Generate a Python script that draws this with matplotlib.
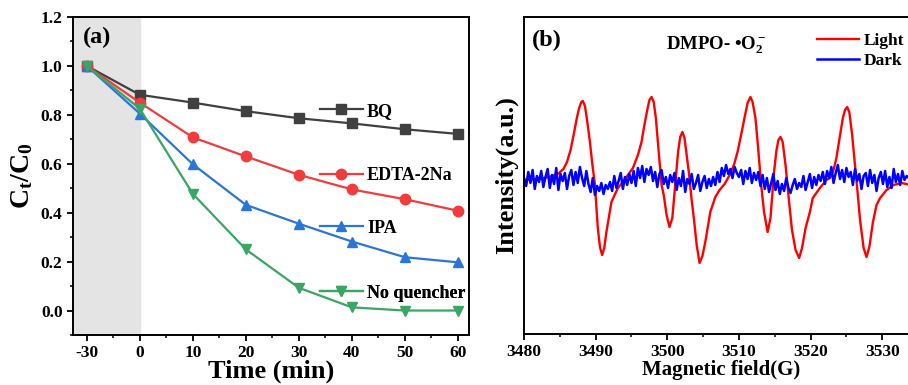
import numpy as np
import matplotlib
matplotlib.use('Agg')
from matplotlib import pyplot as plt
from matplotlib.lines import Line2D

plt.rcParams['font.family'] = ['Liberation Serif', 'DejaVu Serif']
plt.rcParams['font.weight'] = 'bold'
plt.rcParams['axes.labelweight'] = 'bold'
plt.rcParams['mathtext.fontset'] = 'custom'
plt.rcParams['mathtext.rm'] = 'Liberation Serif:bold'
plt.rcParams['mathtext.it'] = 'Liberation Serif:bold'
plt.rcParams['mathtext.bf'] = 'Liberation Serif:bold'

# degradation curves, (a)
time_min = [-30, 0, 10, 20, 30, 40, 50, 60]
time_labels = ['-30', '0', '10', '20', '30', '40', '50', '60']
bq = [1.0, 0.882, 0.850, 0.815, 0.786, 0.765, 0.741, 0.722]
edta = [1.0, 0.850, 0.708, 0.630, 0.555, 0.495, 0.455, 0.408]
ipa = [1.0, 0.805, 0.598, 0.432, 0.355, 0.282, 0.218, 0.197]
no_q = [1.0, 0.825, 0.477, 0.250, 0.093, 0.013, 0.0, 0.0]

series_names = ['BQ', 'EDTA-2Na', 'IPA', 'No quencher']
series_colors = ['#404040', '#f03c3c', '#2a76d8', '#3aa564']
series_markers = ['s', 'o', '^', 'v']

# EPR spectra, (b)
light_field = [3480.0, 3482.0, 3483.5, 3484.3, 3484.9, 3485.5, 3486.0, 3486.5,
               3487.0, 3487.4, 3487.7, 3488.0, 3488.2, 3488.5, 3488.8, 3489.2,
               3489.5, 3489.9, 3490.3, 3490.6, 3490.9, 3491.2, 3491.5, 3492.2,
               3493.1, 3493.8, 3494.5, 3495.2, 3495.9, 3496.4, 3496.8, 3497.2,
               3497.5, 3497.8, 3498.1, 3498.4, 3498.8, 3499.2, 3499.5, 3499.9,
               3500.3, 3500.7, 3501.1, 3501.5, 3501.8, 3502.1, 3502.4, 3502.7,
               3503.0, 3503.4, 3503.7, 3504.1, 3504.5, 3504.9, 3505.3, 3505.7,
               3506.0, 3506.7, 3507.3, 3508.0, 3508.7, 3509.3, 3509.8, 3510.3,
               3510.8, 3511.2, 3511.6, 3511.9, 3512.3, 3512.7, 3513.1, 3513.5,
               3514.0, 3514.4, 3514.9, 3515.2, 3515.5, 3515.8, 3516.1, 3516.5,
               3516.9, 3517.4, 3517.9, 3518.4, 3518.8, 3519.3, 3519.9, 3520.3,
               3521.3, 3522.2, 3522.7, 3523.2, 3523.6, 3524.0, 3524.5, 3524.8,
               3525.1, 3525.4, 3525.8, 3526.1, 3526.4, 3526.9, 3527.4, 3527.8,
               3528.2, 3528.7, 3529.2, 3529.7, 3530.6, 3531.6, 3532.7, 3534.0]
light_int = [0, 1, 3, 5, 7, 11, 18, 30,
             48, 63, 72, 78, 79, 74, 60, 38,
             18, -5, -48, -67, -75, -68, -52, -22,
             -8, -2, 5, 12, 25, 38, 55, 70,
             80, 83, 78, 62, 28, -5, -15, -35,
             -47, -38, -5, 28, 43, 48, 42, 25,
             8, -20, -38, -65, -83, -76, -62, -45,
             -32, -17, -10, -4, 5, 15, 28, 45,
             63, 77, 83, 78, 62, 30, -5, -32,
             -52, -38, 8, 28, 40, 43, 38, 15,
             -15, -50, -70, -78, -68, -48, -32, -18,
             -8, 0, 2, 10, 22, 40, 62, 70,
             73, 68, 45, 22, 0, -40, -68, -77,
             -67, -42, -25, -18, -10, -5, -3, -5]

dark_field = np.arange(3480.0, 3534.01, 0.3)
dark_int = [2, -6, 8, -3, 10, -9, 4, -2, 9, -7,
            3, 11, -8, 5, -4, 12, -10, 6, -1, 7,
            -9, 4, 10, -5, 8, -3, 13, 2, -6, 9,
            -4, -12, 2, -15, -6, -11, -3, -14, -5, -9,
            -2, -11, 4, -8, -1, 7, -9, 3, -5, 6,
            -3, 9, -6, 12, 2, 14, -2, 11, 5, 13,
            -1, 8, -7, 6, 10, -4, 3, -8, 5, -2,
            7, -10, 2, -6, 9, -12, 1, -4, 6, -9,
            -3, 5, -11, -2, 4, -8, 1, -6, 3, -5,
            8, -2, 12, 4, 15, 6, 11, 2, 13, 7,
            3, 10, -4, 9, 1, 12, -3, 7, 0, 8,
            -6, 5, -9, 2, -12, -3, 6, -10, -1, -14,
            -4, -11, 2, -8, -13, -5, 1, -9, -3, -7,
            4, -10, -2, 6, -8, 3, -5, 5, -1, 8,
            -4, 9, 2, 13, -3, 7, 15, 1, 10, -2,
            12, 3, 8, -5, 11, -1, 6, -9, 4, 7,
            -6, 10, -3, 5, -11, 2, 8, -4, 9, -7,
            3, -8, 11, -2, 6, -5, 9, 0, 4, 2,
            1]

fig = plt.figure(figsize=(9.08, 3.85), dpi=100)
ax1 = fig.add_axes([0.0804, 0.1299, 0.4361, 0.826])
ax2 = fig.add_axes([0.5771, 0.1325, 0.434, 0.8234])

# the dark period is squeezed to one tick width
x_pos = [-10 if t < 0 else t for t in time_min]
ax1.axvspan(-13, 0, color='#e4e4e4', zorder=0)
for vals, name, c, m in zip([bq, edta, ipa, no_q], series_names, series_colors, series_markers):
    ax1.plot(x_pos, vals, color=c, marker=m, markersize=7.5, linewidth=1.6, label=name)

# labels sit next to their own curve
legend_y = [0.704, 0.50, 0.336, 0.132]
for name, c, m, ly in zip(series_names, series_colors, series_markers, legend_y):
    h = Line2D([], [], color=c, marker=m, markersize=7.5, linewidth=1.6)
    leg = ax1.legend([h], [name], loc='center left', bbox_to_anchor=(0.624, ly),
                     frameon=False, borderpad=0, borderaxespad=0, handlelength=2.35,
                     handletextpad=0.25, prop={'weight': 'bold', 'size': 13})
    ax1.add_artist(leg)

ax1.set_xlim(-12.6, 62.1)
ax1.set_ylim(-0.1, 1.2)
ax1.set_xticks(x_pos)
ax1.set_xticklabels(time_labels)
ax1.set_xticks(np.arange(-5, 60, 10), minor=True)
ax1.set_yticks(np.arange(0, 1.21, 0.2))
ax1.set_yticklabels(['%.1f' % v for v in np.arange(0, 1.21, 0.2)])
ax1.set_yticks(np.arange(-0.1, 1.2, 0.2), minor=True)
ax1.tick_params(labelsize=12.5, width=1.3, length=4)
ax1.tick_params(which='minor', width=1.1, length=2.5)
ax1.set_xlabel('Time (min)', fontsize=19, labelpad=-1)
ax1.set_ylabel('C$_t$/C$_0$', fontsize=20, labelpad=4)
ax1.text(0.025, 0.935, '(a)', transform=ax1.transAxes, fontsize=17.5, fontweight='bold', va='center')

ax2.plot(light_field, light_int, color='#ff0000', linewidth=1.7, label='Light')
ax2.plot(dark_field, dark_int, color='#0000ff', linewidth=1.8, label='Dark')
ax2.set_xlim(3480, 3535)
ax2.set_ylim(-154, 163)
ax2.set_xticks(np.arange(3480, 3531, 10))
ax2.set_xticks(np.arange(3485, 3535, 10), minor=True)
ax2.set_yticks([])
ax2.tick_params(labelsize=12.5, width=1.3, length=4)
ax2.tick_params(which='minor', width=1.1, length=2.5)
ax2.set_xlabel('Magnetic field(G)', fontsize=15, labelpad=0)
ax2.set_ylabel('Intensity(a.u.)', fontsize=19, labelpad=4)
fig.text(0.586, 0.896, '(b)', fontsize=17.5, fontweight='bold', va='center')
fig.text(0.734, 0.883, 'DMPO- •O$_2^-$', fontsize=13.5, fontweight='bold', va='center')
ax2.legend(loc='center left', bbox_to_anchor=(0.8998, 0.8675), bbox_transform=fig.transFigure,
           frameon=False, borderpad=0, borderaxespad=0, handlelength=2.4, handletextpad=0.3,
           labelspacing=0.25, prop={'weight': 'bold', 'size': 12.5})

for ax in (ax1, ax2):
    for s in ax.spines.values():
        s.set_linewidth(1.4)

fig.savefig('out.png', dpi=100)
